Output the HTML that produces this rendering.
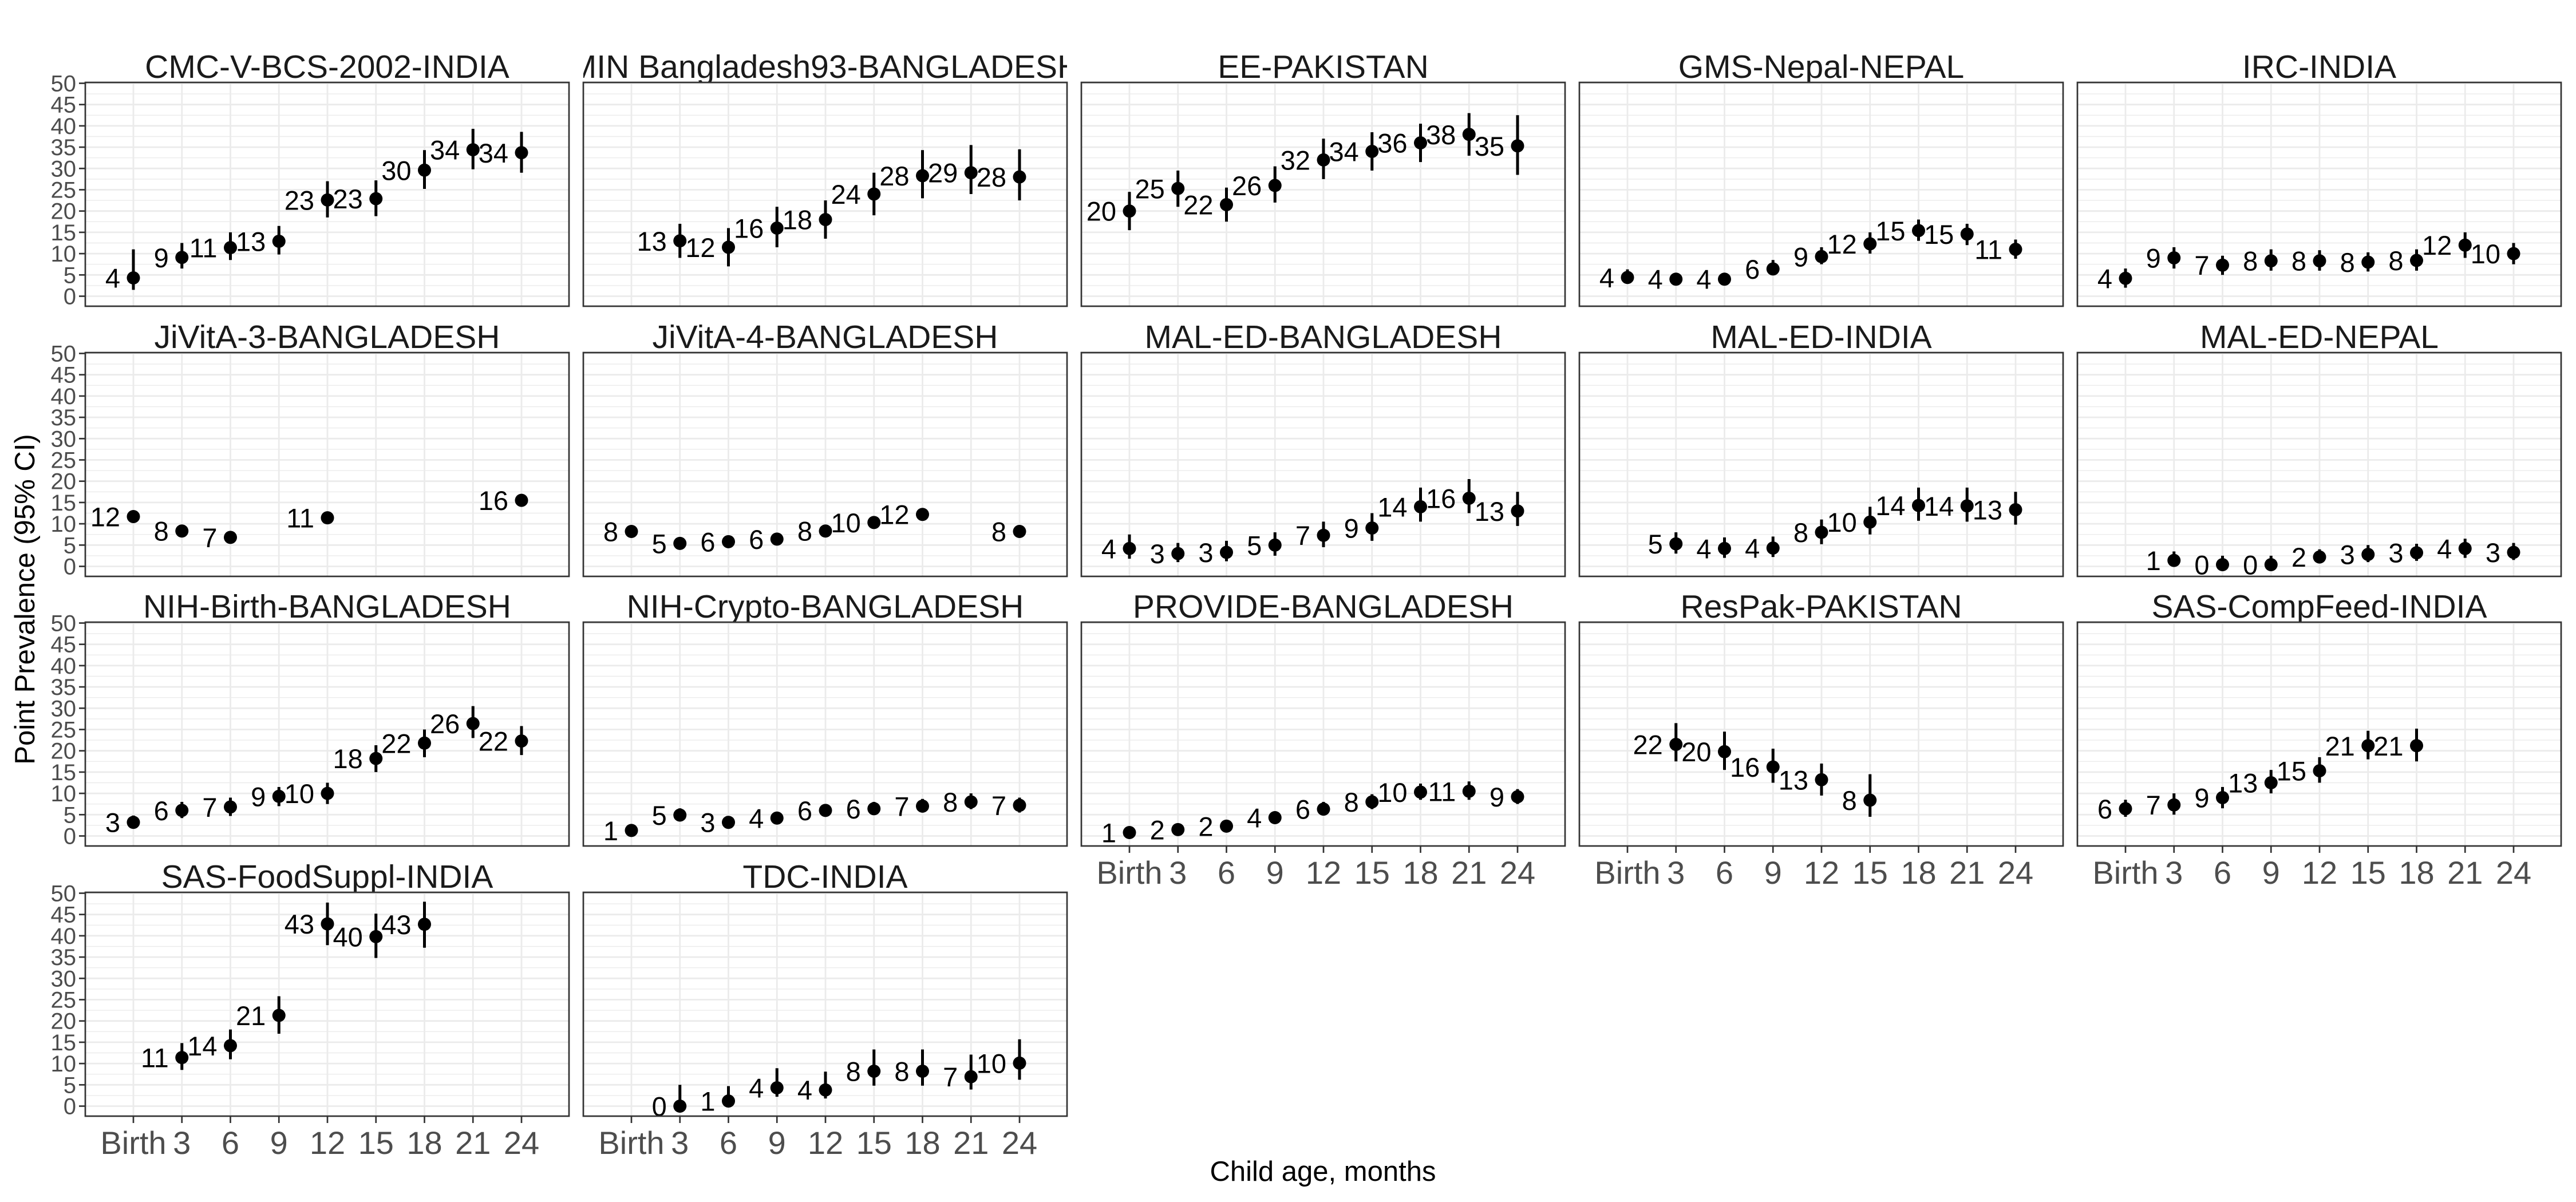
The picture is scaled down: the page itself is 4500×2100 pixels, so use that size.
<!DOCTYPE html>
<html>
<head>
<meta charset="utf-8">
<style>
html,body{margin:0;padding:0;background:#fff;}
svg{display:block;}
text{font-family:"Liberation Sans",Arial,sans-serif;}
</style>
</head>
<body>
<svg id="chart" width="4500" height="2100" viewBox="0 0 4500 2100" xmlns="http://www.w3.org/2000/svg">
<rect x="0" y="0" width="4500" height="2100" fill="#fff"/>
<text x="0" y="0" font-size="49" fill="#000" text-anchor="middle" transform="translate(60,1047) rotate(-90)">Point Prevalence (95% CI)</text>
<text x="2311" y="2063" font-size="49" fill="#000" text-anchor="middle">Child age, months</text>
</svg>
<script>
const categories = ["Birth","3","6","9","12","15","18","21","24"];
const yTicks = [0,5,10,15,20,25,30,35,40,45,50];
const panelNames = ["CMC-V-BCS-2002-INDIA","MIN Bangladesh93-BANGLADESH","EE-PAKISTAN","GMS-Nepal-NEPAL","IRC-INDIA",
  "JiVitA-3-BANGLADESH","JiVitA-4-BANGLADESH","MAL-ED-BANGLADESH","MAL-ED-INDIA","MAL-ED-NEPAL",
  "NIH-Birth-BANGLADESH","NIH-Crypto-BANGLADESH","PROVIDE-BANGLADESH","ResPak-PAKISTAN","SAS-CompFeed-INDIA",
  "SAS-FoodSuppl-INDIA","TDC-INDIA"];
const estimates = [
  [4.3,9.1,11.4,12.9,22.6,22.9,29.6,34.4,33.7],
  [null,13,11.5,16,18,24,28.3,29,28],
  [20,25.3,21.5,26,32,34,36,38,35.3],
  [4.4,4,4,6.4,9.3,12.3,15.4,14.6,11],
  [4.2,9,7.3,8.3,8.3,8,8.4,12,10],
  [11.7,8.3,6.8,null,11.4,null,null,null,15.5],
  [8.2,5.4,5.8,6.4,8.3,10.3,12.2,null,8.2],
  [4.2,3,3.3,5,7.3,9,14,16,13],
  [null,5.3,4.2,4.3,8,10.4,14.3,14.2,13.3],
  [null,1.4,0.4,0.4,2.2,2.8,3.2,4.2,3.3],
  [3.2,6,6.8,9.3,10,18.2,21.8,26.4,22.3],
  [1.3,4.9,3.2,4.2,6,6.4,7,8,7.2],
  [0.8,1.5,2.3,4.3,6.3,8,10.3,10.5,9.2],
  [null,21.5,19.8,16.2,13.2,8.4,null,null,null],
  [6.4,7.3,9,12.5,15.3,21.2,21.2,null,null],
  [null,11.4,14.2,21.3,42.8,39.8,42.7,null,null],
  [null,0,1.2,4.3,3.8,8.2,8.2,6.9,10.1]
];
const lowers = [
  [1.5,6.5,8.5,9.8,18.5,18.8,25.2,29.8,29],
  [null,9,7,11.5,13.5,19,23,24,22.5],
  [15.5,21,17.5,22,27.5,29.5,31.5,33,28.5],
  [3,2.8,2.5,5,7.5,10,13,12,8.8],
  [2,6.5,5,6,6,5.8,6,9,7.5],
  [11,7.6,6.1,null,10.7,null,null,null,14.8],
  [7.4,4.6,5,5.6,7.5,9.5,11.4,null,7.4],
  [1.8,1,1.2,2.5,4.5,6,10.5,12.5,9.5],
  [null,3,2,2.2,5.2,7.5,10.7,10.5,9.8],
  [null,0,0,0,0.7,1,1.3,2,1.5],
  [1.8,4.2,4.7,7,7.5,15,18.5,23,19],
  [0,3.5,2,3,4.5,5,5.5,6.3,5.5],
  [0,0.5,1.3,3,4.8,6.3,8.5,8.5,7.5],
  [null,17.5,15.5,12.5,9.5,4.5,null,null,null],
  [4.5,5,6.5,10,12.5,18,17.5,null,null],
  [null,8.5,11,17,37.8,34.8,37.2,null,null],
  [null,0,0,2.2,1.8,4.8,4.8,3.9,6.2]
];
const uppers = [
  [11,12.5,15,16.5,27,27.2,34.3,39.3,38.6],
  [null,17,16,21,22.5,29,34.3,35.5,34.5],
  [24.5,29.5,25.5,30.5,37,38.5,40.5,43,42.5],
  [6.3,5.5,5.5,8.5,11.5,15,18,17,13.3],
  [6.5,11.5,9.5,11,10.8,10.3,11,15,12.5],
  [12.4,9,7.5,null,12.1,null,null,null,16.2],
  [9,6.2,6.6,7.2,9.1,11.1,13,null,9],
  [7.5,5.5,6,8,10.5,12.5,18.5,20.5,17.5],
  [null,8,6.8,7,11,14,18.5,18.5,17.5],
  [null,3.5,2.5,2.5,4,5,5.3,6.5,5.5],
  [4.8,8,9,11.5,12.5,21.3,25,30.5,25.8],
  [2.5,6.5,4.5,5.6,7.5,8,8.7,10,9],
  [2,2.5,3.5,5.8,8,9.8,12.3,12.8,11],
  [null,26.5,24.5,20.5,17,14.5,null,null,null],
  [8.5,10,11.5,15.5,18.5,24.7,25.2,null,null],
  [null,14.8,18,25.8,47.8,45.2,48,null,null],
  [null,5,4.7,8.9,8.1,13.3,13.3,12.1,15.7]
];

const NS = "http://www.w3.org/2000/svg";
const svg = document.getElementById("chart");
const PW = 845, PH = 391, COLP = 870, ROWP = 471.7, LEFT0 = 149, TOP0 = 144;
function mk(tag, attrs, parent){
  const e = document.createElementNS(NS, tag);
  for (const k in attrs) e.setAttribute(k, attrs[k]);
  (parent||svg).appendChild(e);
  return e;
}
function xScale(i, left){ return left + 84 + i * 84.75; }
function yScale(v, top){ return top + 1.5 + (50 - v) * 7.44; }

const defs = mk("defs", {});
const nPanels = panelNames.length;
const lastRowStart = Math.floor((nPanels - 1) / 5) * 5;

for (let p = 0; p < nPanels; p++){
  const col = p % 5, row = Math.floor(p / 5);
  const left = LEFT0 + col * COLP, top = Math.round(TOP0 + row * ROWP);
  const g = mk("g", {});
  
  

  // clip for title
  const cp = mk("clipPath", {id: "clip" + p}, defs);
  mk("rect", {x: left, y: top - 70, width: PW, height: 70}, cp);
  const title = mk("text", {x: left + PW/2, y: top - 8, "font-size": 57, fill: "#1a1a1a", "text-anchor": "middle", "clip-path": "url(#clip" + p + ")"}, g);
  
  
  title.textContent = panelNames[p];

  const bg = mk("rect", {x: left, y: top, width: PW, height: PH, fill: "#fff"}, g);
  
  

  // minor horizontal grid
  for (let t = 0; t < yTicks.length - 1; t++){
    const v = (yTicks[t] + yTicks[t+1]) / 2;
    const y = yScale(v, top);
    const l = mk("line", {x1: left, x2: left + PW, y1: y, y2: y, stroke: "#ebebeb", "stroke-width": 1.4}, g);
    
    
  }
  yTicks.forEach(v => {
    const y = yScale(v, top);
    const l = mk("line", {x1: left, x2: left + PW, y1: y, y2: y, stroke: "#ebebeb", "stroke-width": 2.8}, g);
    
    
  });
  categories.forEach((c, i) => {
    const x = xScale(i, left);
    const l = mk("line", {x1: x, x2: x, y1: top, y2: top + PH, stroke: "#ebebeb", "stroke-width": 2.8}, g);
    
    
  });

  // error bars, points, labels
  for (let i = 0; i < categories.length; i++){
    const v = estimates[p][i];
    if (v === null) continue;
    const x = xScale(i, left);
    const lo = lowers[p][i], hi = uppers[p][i];
    const eb = mk("line", {x1: x, x2: x, y1: yScale(lo, top), y2: yScale(hi, top), stroke: "#000", "stroke-width": 5}, g);
    
    
    const pt = mk("circle", {cx: x, cy: yScale(v, top), r: 11.5, fill: "#000"}, g);
    
    
    const lb = mk("text", {x: x - 23, y: yScale(v, top) + 17, "font-size": 47, fill: "#000", "text-anchor": "end"}, g);
    
    
    lb.textContent = String(Math.round(v));
  }

  const border = mk("rect", {x: left, y: top, width: PW, height: PH, fill: "none", stroke: "#333", "stroke-width": 2.7}, g);
  
  

  // y axis
  if (col === 0){
    yTicks.forEach(v => {
      const y = yScale(v, top);
      const tk = mk("line", {x1: left - 11, x2: left, y1: y, y2: y, stroke: "#333", "stroke-width": 2.7}, g);
      
      
      const tl = mk("text", {x: left - 16, y: y + 14, "font-size": 40, fill: "#4d4d4d", "text-anchor": "end"}, g);
      
      
      tl.textContent = String(v);
    });
  }
  // x axis: bottom panel of each column
  const isBottom = (p + 5 >= nPanels);
  if (isBottom){
    categories.forEach((c, i) => {
      const x = xScale(i, left);
      const tk = mk("line", {x1: x, x2: x, y1: top + PH, y2: top + PH + 12, stroke: "#333", "stroke-width": 2.7}, g);
      
      
      const tl = mk("text", {x: x, y: top + PH + 66, "font-size": 56, fill: "#4d4d4d", "text-anchor": "middle"}, g);
      
      
      tl.textContent = c;
    });
  }
}
</script>
</body>
</html>
